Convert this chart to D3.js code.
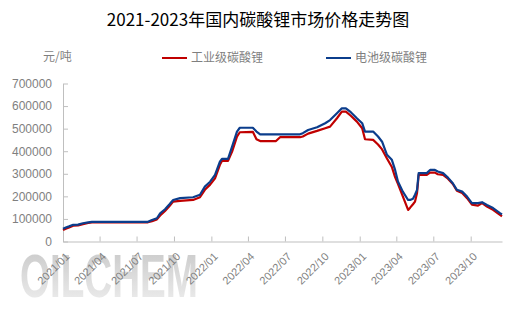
<!DOCTYPE html>
<html>
<head>
<meta charset="utf-8">
<script src="https://cdn.jsdelivr.net/npm/d3@7"></script>
<style>
  body { margin: 0; background: #fff; }
  svg { display: block; }
</style>
</head>
<body>
<div id="chart"></div>
<script>
// 日期（两条线共用）
const dates = [
  '2021-01-01','2021-01-08','2021-01-16','2021-01-26','2021-02-07','2021-02-19','2021-03-04','2021-03-13',
  '2021-07-29','2021-08-08','2021-08-20','2021-08-28','2021-09-09','2021-09-20','2021-09-29','2021-10-16',
  '2021-11-17','2021-12-04','2021-12-16','2021-12-29','2022-01-10','2022-01-22','2022-01-27','2022-02-11',
  '2022-02-21','2022-03-05','2022-03-12','2022-04-13','2022-04-22','2022-05-01','2022-06-09','2022-06-19',
  '2022-08-07','2022-08-14','2022-08-27','2022-09-18','2022-10-08','2022-10-20','2022-11-06','2022-11-18',
  '2022-11-28','2022-12-10','2022-12-25','2023-01-07','2023-01-14','2023-02-03','2023-02-15','2023-02-25',
  '2023-03-09','2023-03-21','2023-03-29','2023-04-05','2023-04-17','2023-04-30','2023-05-05','2023-05-12',
  '2023-05-17','2023-05-22','2023-05-26','2023-06-15','2023-06-23','2023-07-05','2023-07-12','2023-07-25',
  '2023-08-06','2023-08-18','2023-08-28','2023-09-10','2023-09-22','2023-10-04','2023-10-19','2023-10-29',
  '2023-11-10','2023-11-25','2023-12-12','2023-12-17'
];

// 工业级碳酸锂（元/吨）
const industrial = [
  51000,57000,62000,70000,71000,77000,82000,85000,
  85000,90000,98000,115000,135000,157000,177000,180000,
  184000,196000,229000,252000,280000,340000,357000,357000,
  398000,465000,484000,486000,453000,445000,445000,462000,
  462000,465000,478000,490000,502000,509000,546000,575000,
  575000,557000,531000,502000,453000,450000,430000,408000,
  368000,330000,285000,255000,200000,140000,150000,165000,
  177000,215000,295000,295000,305000,305000,298000,295000,
  278000,255000,225000,215000,192000,163000,159000,170000,
  155000,140000,118000,112000
];

// 电池级碳酸锂（元/吨）
const battery = [
  56000,62000,67000,74000,75000,81000,85000,87000,
  87000,95000,103000,125000,143000,165000,184000,192000,
  196000,207000,243000,265000,295000,354000,366000,366000,
  420000,487000,504000,504000,487000,475000,475000,475000,
  475000,480000,494000,506000,524000,538000,568000,590000,
  590000,573000,546000,524000,487000,487000,465000,442000,
  384000,362000,317000,266000,221000,184000,184000,189000,
  207000,229000,303000,303000,317000,317000,310000,303000,
  283000,258000,229000,221000,199000,170000,170000,174000,
  162000,148000,126000,120000
];

const yTicks = [0, 100000, 200000, 300000, 400000, 500000, 600000, 700000];

const width = 527, height = 313;
const parse = d3.timeParse('%Y-%m-%d');
const rows = dates.map((d, i) => ({ date: parse(d), ind: industrial[i], bat: battery[i] }));

const svg = d3.select('#chart').append('svg')
  .attr('width', width)
  .attr('height', height);

// 水印渐变
const grad = svg.append('defs').append('linearGradient')
  .attr('id', 'wm')
  .attr('x1', 0).attr('y1', 0).attr('x2', 0).attr('y2', 1);
grad.append('stop').attr('offset', '0%').attr('stop-color', '#bdbdbd');
grad.append('stop').attr('offset', '100%').attr('stop-color', '#eeeeee');

svg.append('text')
  .attr('x', 20)
  .attr('y', 297)
  .attr('textLength', 178)
  .attr('lengthAdjust', 'spacingAndGlyphs')
  .attr('font-family', 'Liberation Sans, Arial, sans-serif')
  .attr('font-weight', 'bold')
  .attr('font-size', 61)
  .attr('fill', 'url(#wm)')
  .attr('opacity', 0.85)
  .text('OILCHEM');

const x = d3.scaleTime()
  .domain([rows[0].date, rows[rows.length - 1].date])
  .range([63, 502]);

const y = d3.scaleLinear()
  .domain([0, 700000])
  .range([241.5, 83.5]);

// 标题
svg.append('text')
  .attr('x', 258)
  .attr('y', 26)
  .attr('text-anchor', 'middle')
  .attr('font-family', 'Noto Sans CJK SC, sans-serif')
  .attr('font-size', 17)
  .attr('fill', '#000')
  .text('2021-2023年国内碳酸锂市场价格走势图');

// 单位
svg.append('text')
  .attr('x', 43)
  .attr('y', 61)
  .attr('font-family', 'Noto Sans CJK SC, sans-serif')
  .attr('font-size', 12)
  .attr('fill', '#7f7f7f')
  .text('元/吨');

// 图例
const legend = [
  { name: '工业级碳酸锂', color: '#c00000', x: 162 },
  { name: '电池级碳酸锂', color: '#0b3d8c', x: 326 }
];
legend.forEach(l => {
  svg.append('line')
    .attr('x1', l.x).attr('x2', l.x + 25)
    .attr('y1', 58).attr('y2', 58)
    .attr('stroke', l.color)
    .attr('stroke-width', 2);
  svg.append('text')
    .attr('x', l.x + 29)
    .attr('y', 62)
    .attr('font-family', 'Noto Sans CJK SC, sans-serif')
    .attr('font-size', 12)
    .attr('fill', '#7f7f7f')
    .text(l.name);
});

// y轴
const yAxis = svg.append('g')
  .attr('transform', 'translate(63,0)')
  .call(d3.axisLeft(y).tickValues(yTicks).tickFormat(d3.format('d'))
    .tickSizeInner(-5).tickSizeOuter(0).tickPadding(11));
yAxis.select('.domain').attr('stroke', '#bfbfbf');
yAxis.selectAll('.tick line').attr('stroke', '#bfbfbf');
yAxis.selectAll('.tick text')
  .attr('font-family', 'Liberation Sans, Arial, sans-serif')
  .attr('font-size', 12)
  .attr('fill', '#7f7f7f');

// x轴
const xTicks = d3.timeMonth.every(3).range(new Date(2021, 0, 1), new Date(2023, 11, 1));
const xAxis = svg.append('g')
  .attr('transform', 'translate(0,241.5)')
  .call(d3.axisBottom(x).tickValues(xTicks).tickFormat(d3.timeFormat('%Y/%m'))
    .tickSizeInner(-5).tickSizeOuter(0));
xAxis.select('.domain').attr('stroke', '#bfbfbf');
xAxis.selectAll('.tick line').attr('stroke', '#bfbfbf');
xAxis.selectAll('.tick text')
  .attr('font-family', 'Liberation Sans, Arial, sans-serif')
  .attr('font-size', 11)
  .attr('fill', '#7f7f7f')
  .attr('text-anchor', 'end')
  .attr('transform', 'translate(4,13) rotate(-45)')
  .attr('y', 0)
  .attr('dy', '0.35em');

// 折线
const lineInd = d3.line().x(d => x(d.date)).y(d => y(d.ind));
const lineBat = d3.line().x(d => x(d.date)).y(d => y(d.bat));

svg.append('path')
  .datum(rows)
  .attr('d', lineInd)
  .attr('fill', 'none')
  .attr('stroke', '#c00000')
  .attr('stroke-width', 2.2)
  .attr('stroke-linejoin', 'round');

svg.append('path')
  .datum(rows)
  .attr('d', lineBat)
  .attr('fill', 'none')
  .attr('stroke', '#0b3d8c')
  .attr('stroke-width', 2.2)
  .attr('stroke-linejoin', 'round');
</script>
</body>
</html>
